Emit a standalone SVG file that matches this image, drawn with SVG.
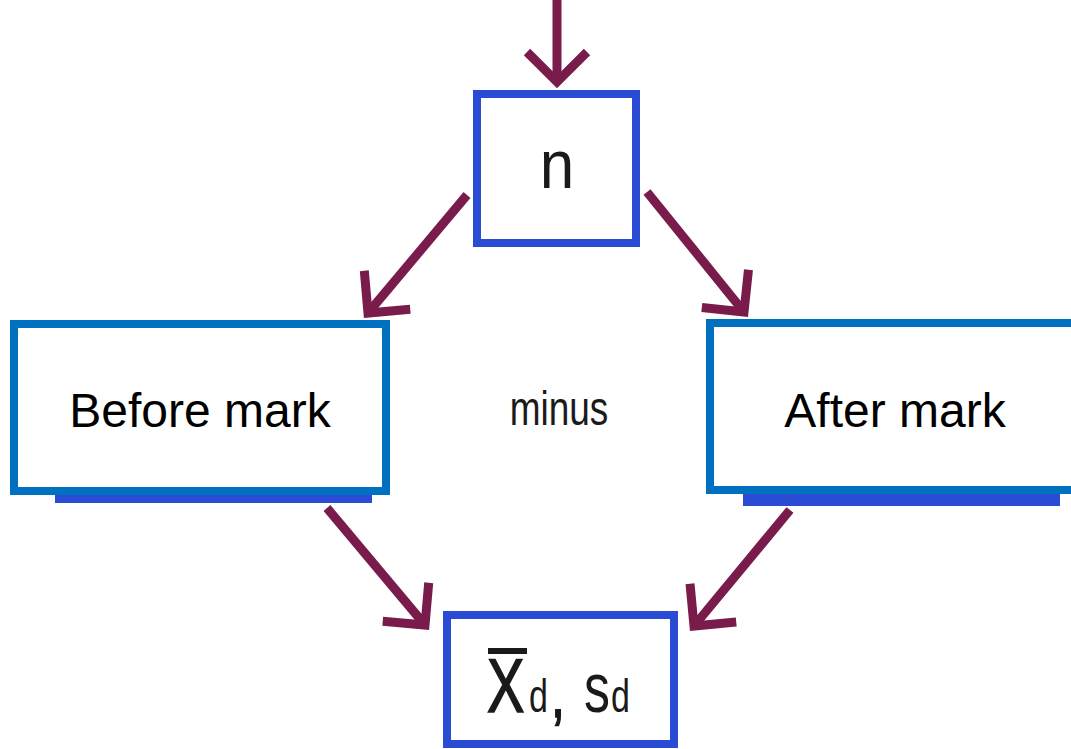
<svg xmlns="http://www.w3.org/2000/svg" width="1071" height="749" viewBox="0 0 1071 749">
  <style>
    .scan { fill: #ffffff; stroke: #2a4bd3; stroke-width: 8; }
    .scanbar { fill: #2a4bd3; }
    .ppt { fill: #ffffff; stroke: #0070c0; stroke-width: 8; }
    .arrow { fill: none; stroke: #7a1c4b; stroke-width: 9; marker-end: url(#vhead); }
    .label { font-family: "Liberation Sans", Arial, sans-serif; fill: #000000; }
    .math { font-family: "Liberation Sans", Arial, sans-serif; fill: #1a1a1a; }
    .heavy { stroke: #1a1a1a; stroke-width: 1.2; }
  </style>
  <defs>
    <marker id="vhead" markerUnits="userSpaceOnUse" orient="auto" refX="0" refY="0"
            markerWidth="80" markerHeight="80" viewBox="-40 -40 80 80" overflow="visible">
      <path d="M-30,-30 L0,0 L-30,30" fill="none" stroke="#7a1c4b" stroke-width="9"/>
    </marker>
  </defs>

  <rect width="1071" height="749" fill="#ffffff"/>

  <!-- connectors -->
  <g id="connectors">
    <path class="arrow" d="M557,0 L557,82"/>
    <path class="arrow" d="M467,195 L368,313"/>
    <path class="arrow" d="M647,192 L744,312"/>
    <path class="arrow" d="M327,508 L425,625"/>
    <path class="arrow" d="M790,510 L694,626"/>
  </g>

  <!-- sample size -->
  <g id="node-n">
    <rect class="scan" x="477" y="94" width="159" height="149"/>
    <text class="math" transform="translate(557,188) scale(1,1.12)" font-size="62" text-anchor="middle">n</text>
  </g>

  <!-- before -->
  <g id="node-before">
    <rect class="scanbar" x="55" y="490" width="317" height="13"/>
    <rect class="ppt" x="14" y="324" width="372" height="167"/>
    <text class="label" x="200" y="427" font-size="48" text-anchor="middle">Before mark</text>
  </g>

  <!-- after -->
  <g id="node-after">
    <rect class="scanbar" x="743" y="492" width="317" height="14"/>
    <rect class="ppt" x="710" y="323" width="380" height="167"/>
    <text class="label" x="895" y="427" font-size="48" text-anchor="middle">After mark</text>
  </g>

  <!-- operation label -->
  <g id="label-minus">
    <text class="math" transform="translate(559,425) scale(1,1.3)" font-size="37" text-anchor="middle" fill="#3a3a3a">minus</text>
  </g>

  <!-- mean and standard deviation of differences -->
  <g id="node-result">
    <rect class="scan" x="447" y="615" width="227" height="129"/>
    <rect x="488" y="648" width="39" height="6" fill="#1a1a1a"/>
    <g transform="translate(0,712) scale(1,1.35)">
      <text class="math heavy" x="487" y="0" font-size="56">X</text>
      <text class="math" x="529" y="0" font-size="34">d</text>
      <text class="math heavy" x="551" y="4" font-size="50">,</text>
      <text class="math" x="584" y="0" font-size="52">s</text>
      <text class="math" x="611" y="0" font-size="34">d</text>
    </g>
  </g>
</svg>
